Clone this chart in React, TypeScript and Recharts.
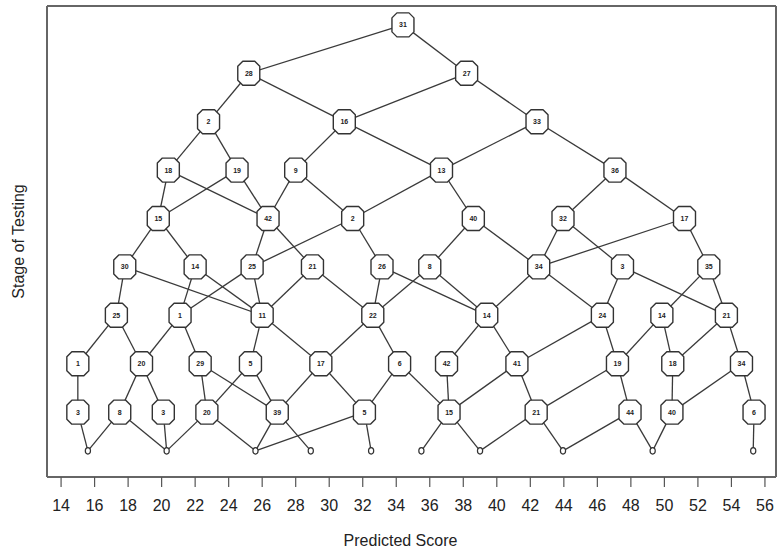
import { ReferenceLine, Scatter, ScatterChart, XAxis, YAxis } from "recharts";

// x axis ticks (predicted score)
const scoreTicks = [14, 16, 18, 20, 22, 24, 26, 28, 30, 32, 34, 36, 38, 40, 42, 44, 46, 48, 50, 52, 54, 56];

// vertical level of each row, top row first (last row = terminal circles)
const stageLevels = [9, 8, 7, 6, 5, 4, 3, 2, 1, 0.2];

// item numbers shown in the octagons, row by row
const rowLabels: string[][] = [
  ["31"],
  ["28", "27"],
  ["2", "16", "33"],
  ["18", "19", "9", "13", "36"],
  ["15", "42", "2", "40", "32", "17"],
  ["30", "14", "25", "21", "26", "8", "34", "3", "35"],
  ["25", "1", "11", "22", "14", "24", "14", "21"],
  ["1", "20", "29", "5", "17", "6", "42", "41", "19", "18", "34"],
  ["3", "8", "3", "20", "39", "5", "15", "21", "44", "40", "6"],
];

// predicted score of every node, row by row
const rowScores: number[][] = [
  [34.4],
  [25.2, 38.2],
  [22.8, 30.9, 42.4],
  [20.4, 24.5, 28.0, 36.7, 47.05],
  [19.8, 26.35, 31.4, 38.6, 43.95, 51.2],
  [17.8, 22.0, 25.4, 29.0, 33.15, 36.0, 42.5, 47.5, 52.65],
  [17.3, 21.1, 26.0, 32.6, 39.4, 46.3, 49.85, 53.7],
  [15.0, 18.8, 22.3, 25.3, 29.5, 34.2, 37.0, 41.2, 47.2, 50.5, 54.6],
  [15.0, 17.5, 20.1, 22.7, 26.9, 32.1, 37.15, 42.35, 47.95, 50.45, 55.35],
  [15.6, 20.3, 25.6, 28.9, 32.5, 35.5, 39.0, 43.95, 49.3, 55.3],
];

// branches from row r (index 0) to row r + 1 (index 1)
const rowEdges: [number, number][][] = [
  [[0, 0], [0, 1]],
  [[0, 0], [0, 1], [1, 1], [1, 2]],
  [[0, 0], [0, 1], [1, 2], [1, 3], [2, 3], [2, 4]],
  [[0, 0], [0, 1], [1, 0], [1, 1], [2, 1], [2, 2], [3, 2], [3, 3], [4, 4], [4, 5]],
  [[0, 0], [0, 1], [1, 2], [1, 3], [2, 2], [2, 4], [3, 5], [3, 6], [4, 6], [4, 7], [5, 6], [5, 8]],
  [[0, 0], [0, 2], [1, 1], [1, 2], [2, 1], [2, 2], [3, 2], [3, 3], [4, 3], [4, 4], [5, 3], [5, 4], [6, 4], [6, 5], [7, 5], [7, 7], [8, 6], [8, 7]],
  [[0, 0], [0, 1], [1, 1], [1, 2], [2, 3], [2, 4], [3, 4], [3, 5], [4, 6], [4, 7], [5, 7], [5, 8], [6, 8], [6, 9], [7, 9], [7, 10]],
  [[0, 0], [1, 1], [1, 2], [2, 3], [2, 4], [3, 3], [3, 4], [4, 4], [4, 5], [5, 5], [5, 6], [6, 6], [7, 6], [7, 7], [8, 7], [8, 8], [9, 9], [10, 9], [10, 10]],
  [[0, 0], [1, 0], [1, 1], [2, 1], [3, 1], [3, 2], [4, 2], [4, 3], [5, 2], [5, 4], [6, 5], [6, 6], [7, 6], [7, 7], [8, 7], [8, 8], [9, 8], [10, 9]],
];

const INK = "#333";
const FRAME = { stroke: "#666", strokeWidth: 2 };
const FONT = "'Liberation Sans', Arial, Helvetica, sans-serif";

const nodes = rowLabels.flatMap((labels, r) =>
  labels.map((label, i) => ({ x: rowScores[r][i], y: stageLevels[r], label }))
);
const leaves = rowScores[rowScores.length - 1].map((x) => ({ x, y: stageLevels[stageLevels.length - 1] }));
const edges = rowEdges.flatMap((list, r) =>
  list.map(([a, b]) => [
    { x: rowScores[r][a], y: stageLevels[r] },
    { x: rowScores[r + 1][b], y: stageLevels[r + 1] },
  ])
);

const NoDot = () => <g />;

const Octagon = (props: any) => {
  const { cx, cy, payload } = props;
  const w = 11;
  const h = 12;
  const c = 5;
  const d = [
    [cx - w + c, cy - h],
    [cx + w - c, cy - h],
    [cx + w, cy - h + c],
    [cx + w, cy + h - c],
    [cx + w - c, cy + h],
    [cx - w + c, cy + h],
    [cx - w, cy + h - c],
    [cx - w, cy - h + c],
  ]
    .map((p, i) => `${i ? "L" : "M"}${p[0]},${p[1]}`)
    .join(" ");
  return (
    <g>
      <path d={d + " Z"} fill="#fff" stroke={INK} strokeWidth={1.4} strokeLinejoin="round" />
      <text x={cx} y={cy + 2.5} textAnchor="middle" fontSize={7} fontWeight="bold" fontFamily={FONT} fill="#222">
        {payload.label}
      </text>
    </g>
  );
};

const Leaf = (props: any) => (
  <ellipse cx={props.cx} cy={props.cy} rx={2.6} ry={3.2} fill="#fff" stroke={INK} strokeWidth={1.2} />
);

const X_MIN = 13.16;
const X_MAX = 56.66;
const Y_MIN = -0.34;
const Y_MAX = 9.39;

export default function App() {
  return (
    <div style={{ position: "absolute", left: 0, top: 0 }}>
      <ScatterChart width={778} height={555} margin={{ top: 6, right: 2, bottom: 0, left: 0 }}>
        <XAxis
          type="number"
          dataKey="x"
          domain={[X_MIN, X_MAX]}
          ticks={scoreTicks}
          interval={0}
          allowDataOverflow
          height={78}
          axisLine={FRAME}
          tickSize={10}
          tickMargin={13}
          tickLine={{ stroke: "#555", strokeWidth: 1.2 }}
          tick={{ fill: "#222", fontSize: 16, fontFamily: FONT }}
          label={{ value: "Predicted Score", position: "insideBottom", offset: 9, dx: -11, fill: "#222", fontSize: 16, fontFamily: FONT }}
        />
        <YAxis
          type="number"
          dataKey="y"
          domain={[Y_MIN, Y_MAX]}
          allowDataOverflow
          width={47}
          tick={false}
          axisLine={FRAME}
          tickLine={false}
          label={{ value: "Stage of Testing", angle: -90, position: "center", dx: -5, fill: "#222", fontSize: 16, fontFamily: FONT }}
        />
        <ReferenceLine y={Y_MAX} ifOverflow="visible" {...FRAME} />
        <ReferenceLine x={X_MAX} ifOverflow="visible" {...FRAME} />
        {edges.map((pts, k) => (
          <Scatter
            key={`e${k}`}
            data={pts}
            line={{ stroke: "#3a3a3a", strokeWidth: 1.3 }}
            shape={NoDot}
            isAnimationActive={false}
            legendType="none"
          />
        ))}
        <Scatter data={leaves} shape={Leaf} isAnimationActive={false} legendType="none" />
        <Scatter data={nodes} shape={Octagon} isAnimationActive={false} legendType="none" />
      </ScatterChart>
    </div>
  );
}
